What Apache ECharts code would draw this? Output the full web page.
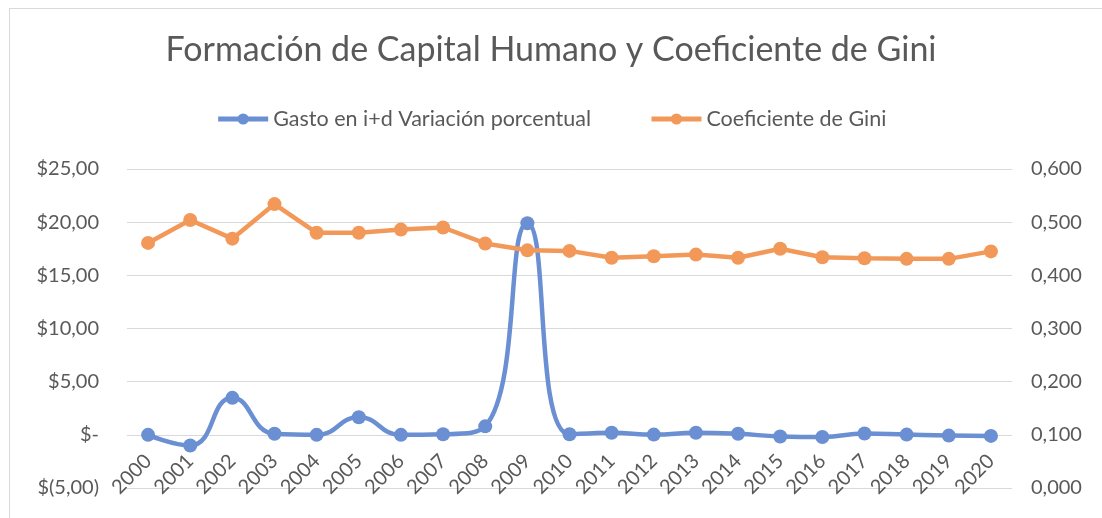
<!DOCTYPE html>
<html>
<head>
<meta charset="utf-8">
<script src="https://cdn.jsdelivr.net/npm/echarts@6/dist/echarts.min.js"></script>
<style>
    html, body { margin: 0; padding: 0; background: #fff; }
    #frame { position: absolute; left: 9px; top: 8px; width: 1200px; height: 600px; border: 1px solid #d9d9d9; }
    #chart { position: absolute; left: 0; top: 0; width: 1102px; height: 518px; }
</style>
</head>
<body>
<div id="frame"></div>
<div id="chart"></div>
<script>
'use strict';
var years = ['2000', '2001', '2002', '2003', '2004', '2005', '2006', '2007', '2008', '2009', '2010',
    '2011', '2012', '2013', '2014', '2015', '2016', '2017', '2018', '2019', '2020'];
var gastoData = [0, -1.0, 3.48, 0.1, 0, 1.65, 0, 0.05, 0.8, 19.9, 0.05,
    0.2, 0.02, 0.2, 0.1, -0.15, -0.2, 0.12, 0.02, -0.07, -0.1];
var giniData = [0.461, 0.504, 0.469, 0.534, 0.480, 0.480, 0.486, 0.490, 0.460, 0.447, 0.446,
    0.433, 0.436, 0.439, 0.433, 0.450, 0.434, 0.432, 0.431, 0.431, 0.445];

var textColor = '#595959';
var fontName = 'Lato, "Open Sans", sans-serif';

var chart = echarts.init(document.getElementById('chart'));

var dollar = function(v) {
    if (v === 0) return '$-';
    var s = Math.abs(v).toFixed(2).replace('.', ',');
    return v < 0 ? '$(' + s + ')' : '$' + s;
};

// grid: top 169, bottom 30 -> 319px high, 6 bands; the category labels sit on the $- line
var gridTop = 169, gridBottom = 30;
var bandHeight = (518 - gridTop - gridBottom) / 6;

var option = {
    textStyle: { fontFamily: fontName },
    title: {
        text: 'Formación de Capital Humano y Coeficiente de Gini',
        left: 'center',
        top: 28,
        textStyle: { color: textColor, fontSize: 34, fontWeight: 'normal', fontFamily: fontName }
    },
    legend: {
        data: ['Gasto en i+d Variación porcentual', 'Coeficiente de Gini'],
        top: 103,
        left: 'center',
        itemWidth: 50,
        itemHeight: 14,
        itemGap: 58,
        lineStyle: { width: 5 },
        textStyle: { color: textColor, fontSize: 21.5, fontFamily: fontName }
    },
    grid: {
        left: 127,
        right: 90,
        top: gridTop,
        bottom: gridBottom,
        containLabel: false,
        outerBoundsMode: 'none'
    },
    xAxis: {
        type: 'category',
        data: years,
        boundaryGap: true,
        offset: -bandHeight,
        axisLine: { show: false, onZero: false },
        axisTick: { show: false },
        axisLabel: { rotate: 45, interval: 0, color: textColor, fontSize: 20, margin: 23, fontFamily: fontName }
    },
    yAxis: [{
        type: 'value',
        min: -5,
        max: 25,
        interval: 5,
        axisLine: { show: false },
        axisTick: { show: false },
        splitLine: { lineStyle: { color: '#d9d9d9', width: 1 } },
        axisLabel: { color: textColor, fontSize: 20, margin: 28, formatter: dollar, fontFamily: fontName }
    }, {
        type: 'value',
        min: 0,
        max: 0.6,
        interval: 0.1,
        axisLine: { show: false },
        axisTick: { show: false },
        splitLine: { show: false },
        axisLabel: {
            color: textColor, fontSize: 20, margin: 19, fontFamily: fontName,
            formatter: function(v) { return v.toFixed(3).replace('.', ','); }
        }
    }],
    series: [{
        name: 'Gasto en i+d Variación porcentual',
        type: 'line',
        yAxisIndex: 0,
        data: gastoData,
        smooth: 0.5,
        symbol: 'circle',
        symbolSize: 14,
        itemStyle: { color: '#6a8fd2' },
        lineStyle: { color: '#6a8fd2', width: 4.5 },
        z: 2
    }, {
        name: 'Coeficiente de Gini',
        type: 'line',
        yAxisIndex: 1,
        data: giniData,
        symbol: 'circle',
        symbolSize: 14,
        itemStyle: { color: '#f2995a' },
        lineStyle: { color: '#f2995a', width: 4.5 },
        z: 3
    }]
};
chart.setOption(option);
</script>
</body>
</html>
